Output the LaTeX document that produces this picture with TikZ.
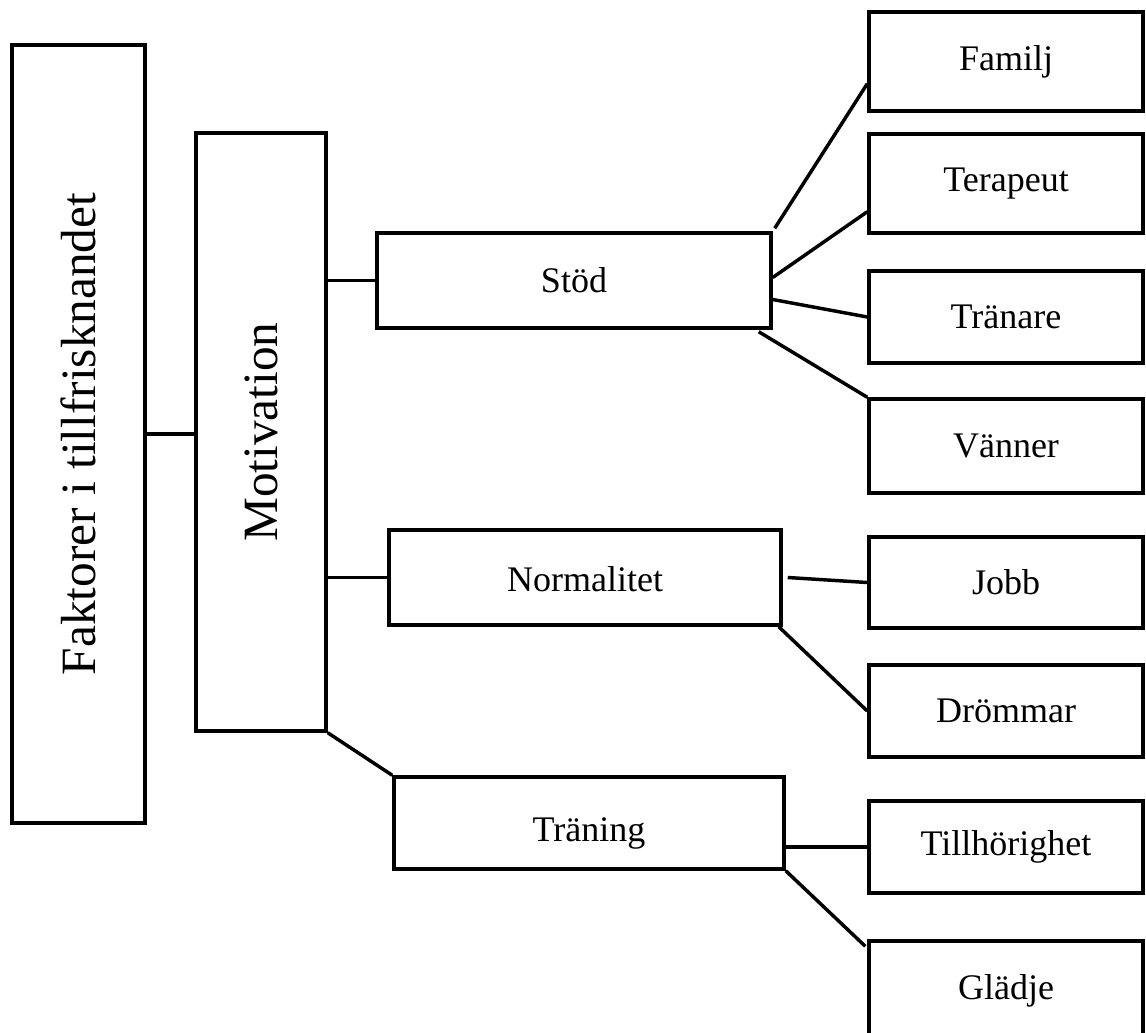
\documentclass[tikz,border=0pt]{standalone}
\usepackage{fontspec}
\setmainfont{Liberation Serif}
\usetikzlibrary{calc}
\begin{document}
\begin{tikzpicture}[x=0.75pt,y=-0.75pt,
  box/.style={draw, line width=2.6pt, inner sep=0pt, font=\fontsize{27}{30}\selectfont},
  big/.style={box, font=\fontsize{37}{40}\selectfont},
  leaf/.style={box, minimum width=205.5pt},
  conn/.style={line width=2.6pt}]
\useasboundingbox (0,0) rectangle (1146,1032);
\clip (0,0) rectangle (1146,1032);
% main boxes
\node[big, minimum width=99.75pt, minimum height=583.5pt] (fak) at (78.5,434) {\rotatebox{90}{Faktorer i tillfrisknandet}};
\node[big, minimum width=97.5pt, minimum height=448.5pt] (mot) at (261,432) {\rotatebox{90}{Motivation}};
\node[box, minimum width=295.5pt, minimum height=71.25pt] (stod) at (574,280.5) {Stöd};
\node[box, minimum width=294pt, minimum height=71.25pt, text height=22pt, text depth=1.2pt] (norm) at (585,577.5) {Normalitet};
\node[box, minimum width=292.5pt, minimum height=69pt, text height=30pt, text depth=1.7pt] (trn) at (589,823) {Träning};
% leaves
\node[leaf, minimum height=74.25pt] (fam) at (1006,61.5) {Familj};
\node[leaf, minimum height=74.25pt] (ter) at (1006,183.5) {Terapeut};
\node[leaf, minimum height=69pt] (tra) at (1006,317) {Tränare};
\node[leaf, minimum height=70.5pt] (van) at (1006,446) {Vänner};
\node[leaf, minimum height=68.25pt] (jobb) at (1006,582.5) {Jobb};
\node[leaf, minimum height=69pt] (drom) at (1006,711) {Drömmar};
\node[leaf, minimum height=69pt] (till) at (1006,847) {Tillhörighet};
\node[leaf, minimum height=74.25pt] (glad) at (1006,990.5) {Glädje};
% connectors
\draw[conn] (fak.east) -- (fak.east -| mot.west);
\draw[conn] (stod.west -| mot.east) -- (stod.west);
\draw[conn] (norm.west -| mot.east) -- (norm.west);
\draw[conn] (mot.south east) -- (trn.north west);
\draw[conn] ($(stod.north east)+(2,-3)$) -- ($(fam.south west)+(0,-29)$);
\draw[conn] ($(stod.east)+(0,-3)$) -- ($(ter.south west)+(0,-23)$);
\draw[conn] ($(stod.east)+(0,19)$) -- (tra.west);
\draw[conn] ($(stod.south east)+(-14,2)$) -- (van.north west);
\draw[conn] ($(norm.east)+(5,0)$) -- (jobb.west);
\draw[conn] ($(norm.south east)+(-4,0)$) -- (drom.west);
\draw[conn] (till.west -| trn.east) -- (till.west);
\draw[conn] (trn.south east) -- ($(glad.north west)+(-2,7)$);
\end{tikzpicture}
\end{document}
